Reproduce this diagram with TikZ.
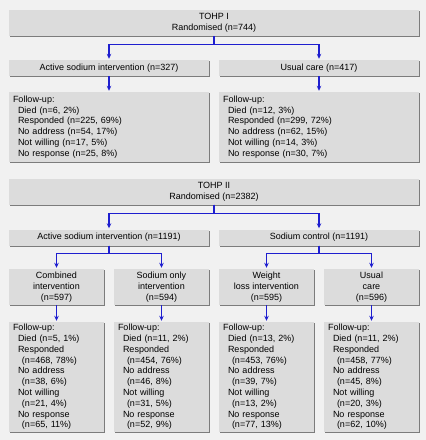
\documentclass[tikz,border=0pt]{standalone}
\usepackage{fontspec}
\setmainfont{Liberation Sans}
\usetikzlibrary{positioning, arrows.meta, shadows}

\definecolor{pagebg}{HTML}{F1F1F1}
\definecolor{boxfill}{HTML}{DCDCDC}
\definecolor{boxedge}{HTML}{7C7C7C}
\definecolor{flowblue}{HTML}{1E1ECF}

\newcommand{\indA}{\hspace*{5pt}}
\newcommand{\indB}{\hspace*{9pt}}

\begin{document}
\begin{tikzpicture}[
  x=1pt, y=-1pt,
  every node/.style={font=\fontsize{9}{10.8}\selectfont},
  arr/.style={-{Stealth[length=5pt, width=4.5pt]}, line width=1.1pt, flowblue, shorten >=1pt},
  box/.style={fill=boxfill, inner sep=0pt, align=center,
              general shadow={fill=boxedge, shadow xshift=1.3pt, shadow yshift=-1.3pt}},
  wide/.style={box, minimum width=410pt, minimum height=26pt},
  half/.style={box, minimum width=200pt, minimum height=16pt},
  quart/.style={box, minimum width=95pt, minimum height=36pt},
  fuhalf/.style={box, align=left, inner xsep=4pt, text width=192pt, minimum height=70pt},
  fuquart/.style={box, align=left, inner xsep=4pt, text width=87pt, minimum height=110pt}
]

% ---- Background ----
\fill[pagebg] (0,0) rectangle (426,440);
\useasboundingbox (0,0) rectangle (426,440);

% ---- TOHP I ----
\node[wide] (t1) at (214,23) {TOHP I\\Randomised (n=744)};

\node[half] (t1act) at (109,68) {Active sodium intervention (n=327)};
\node[half] (t1usu) at (319,68) {Usual care (n=417)};

\node[fuhalf] (t1actfu) at (109,127) {Follow-up:\\
  \indA Died (n=6, 2\%)\\
  \indA Responded (n=225, 69\%)\\
  \indA No address (n=54, 17\%)\\
  \indA Not willing (n=17, 5\%)\\
  \indA No response (n=25, 8\%)};
\node[fuhalf] (t1usufu) at (319,127) {Follow-up:\\
  \indA Died (n=12, 3\%)\\
  \indA Responded (n=299, 72\%)\\
  \indA No address (n=62, 15\%)\\
  \indA Not willing (n=14, 3\%)\\
  \indA No response (n=30, 7\%)};

% ---- TOHP II ----
\node[wide] (t2) at (214,191.5) {TOHP II\\Randomised (n=2382)};

\node[half] (t2act) at (109,237.5) {Active sodium intervention (n=1191)};
\node[half] (t2ctl) at (319,237.5) {Sodium control (n=1191)};

\node[quart] (comb) at (56.5,287)  {Combined\\intervention\\(n=597)};
\node[quart] (sodo) at (161.5,287) {Sodium only\\intervention\\(n=594)};
\node[quart] (wloss) at (266.5,287) {Weight\\loss intervention\\(n=595)};
\node[quart] (usu2) at (371.5,287) {Usual\\care\\(n=596)};

\node[fuquart] (combfu) at (56.5,377) {Follow-up:\\
  \indA Died (n=5, 1\%)\\
  \indA Responded\\ \indB(n=468, 78\%)\\
  \indA No address\\ \indB(n=38, 6\%)\\
  \indA Not willing\\ \indB(n=21, 4\%)\\
  \indA No response\\ \indB(n=65, 11\%)};
\node[fuquart] (sodofu) at (161.5,377) {Follow-up:\\
  \indA Died (n=11, 2\%)\\
  \indA Responded\\ \indB(n=454, 76\%)\\
  \indA No address\\ \indB(n=46, 8\%)\\
  \indA Not willing\\ \indB(n=31, 5\%)\\
  \indA No response\\ \indB(n=52, 9\%)};
\node[fuquart] (wlossfu) at (266.5,377) {Follow-up:\\
  \indA Died (n=13, 2\%)\\
  \indA Responded\\ \indB(n=453, 76\%)\\
  \indA No address\\ \indB(n=39, 7\%)\\
  \indA Not willing\\ \indB(n=13, 2\%)\\
  \indA No response\\ \indB(n=77, 13\%)};
\node[fuquart] (usu2fu) at (371.5,377) {Follow-up:\\
  \indA Died (n=11, 2\%)\\
  \indA Responded\\ \indB(n=458, 77\%)\\
  \indA No address\\ \indB(n=45, 8\%)\\
  \indA Not willing\\ \indB(n=20, 3\%)\\
  \indA No response\\ \indB(n=62, 10\%)};

% ---- Arrows: split ----
\foreach \s/\t in {t1/t1act, t1/t1usu, t2/t2act, t2/t2ctl}
  \draw[arr] (\s.south) -- ++(0,8.5) -| (\t.north);
\foreach \s/\t in {t2act/comb, t2act/sodo, t2ctl/wloss, t2ctl/usu2}
  \draw[arr] (\s.south) -- ++(0,7.5) -| (\t.north);

% ---- Arrows: to follow-up ----
\foreach \s in {t1act, t1usu, comb, sodo, wloss, usu2}
  \draw[arr] (\s.south) -- (\s fu.north);

\end{tikzpicture}
\end{document}
